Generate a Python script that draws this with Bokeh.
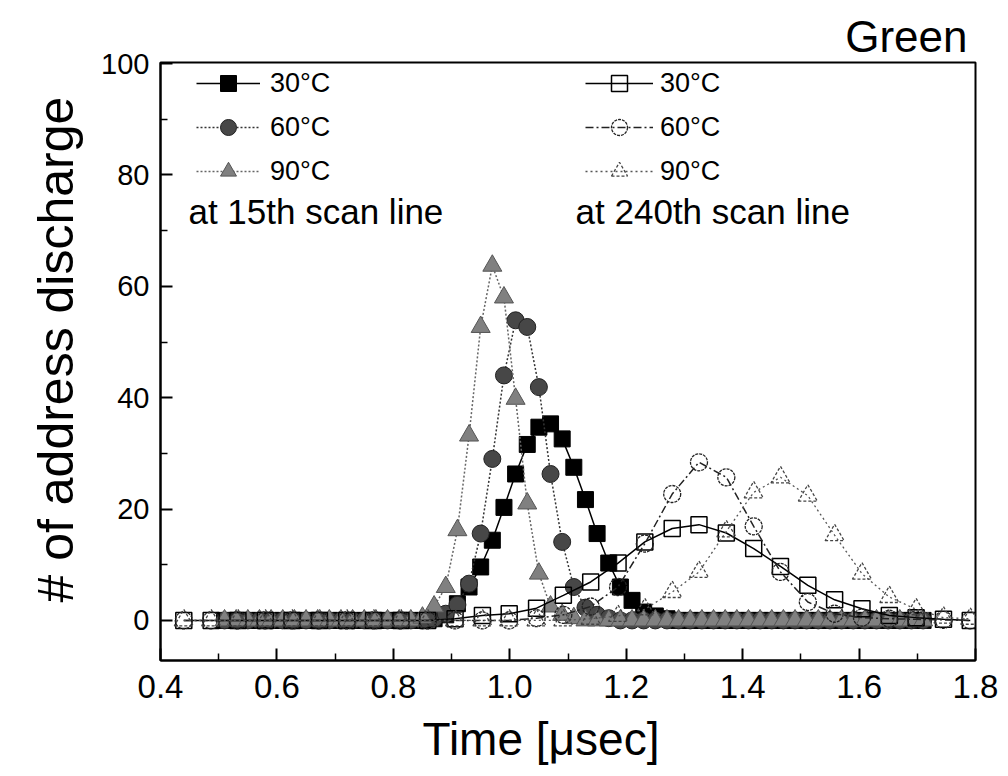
from bokeh.plotting import figure
from bokeh.models import Range1d, FixedTicker, Legend, LegendItem, Label, NumeralTickFormatter, Title
from bokeh.embed import file_html
from bokeh.resources import INLINE

# ---------------- data ----------------
# 15th scan line (time grid in usec)
t15 = [0.51, 0.53, 0.55, 0.57, 0.59, 0.61, 0.63, 0.65, 0.67, 0.69,
       0.71, 0.73, 0.75, 0.77, 0.79, 0.81, 0.83, 0.85, 0.87, 0.89,
       0.91, 0.93, 0.95, 0.97, 0.99, 1.01, 1.03, 1.05, 1.07, 1.09,
       1.11, 1.13, 1.15, 1.17, 1.19, 1.21, 1.23, 1.25, 1.27, 1.29,
       1.31, 1.33, 1.35, 1.37, 1.39, 1.41, 1.43, 1.45, 1.47, 1.49,
       1.51, 1.53, 1.55, 1.57, 1.59, 1.61, 1.63, 1.65, 1.67, 1.69, 1.71]
y30_15 = [0, 0, 0, 0, 0, 0, 0, 0, 0, 0,
          0, 0, 0, 0, 0, 0, 0, 0, 0.3, 1.0,
          3.0, 6.0, 9.6, 14.4, 20.3, 26.3, 31.6, 34.7, 35.3, 32.6,
          27.5, 21.7, 15.6, 10.3, 6.0, 3.6, 1.5, 0.8, 0.3, 0,
          0, 0, 0, 0, 0, 0, 0, 0, 0, 0,
          0, 0, 0, 0, 0, 0, 0, 0, 0, 0, 0]
y60_15 = [0, 0, 0, 0, 0, 0, 0, 0, 0, 0,
          0, 0, 0, 0, 0, 0, 0, 0, 0.3, 1.2,
          2.8, 6.6, 15.6, 29.0, 44.0, 53.9, 52.7, 41.9, 26.3, 14.1,
          6.0, 2.3, 1.0, 0.4, 0, 0, 0, 0, 0, 0,
          0, 0, 0, 0, 0, 0, 0, 0, 0, 0,
          0, 0, 0, 0, 0, 0, 0, 0, 0, 0, 0]
y90_15 = [0, 0, 0, 0, 0, 0, 0, 0, 0, 0,
          0, 0, 0, 0, 0, 0, 0, 0.5, 2.5, 6.0,
          16.2, 33.2, 52.7, 63.7, 58.0, 39.8, 21.0, 8.4, 2.5, 1.0,
          0.4, 0, 0, 0, 0, 0, 0, 0, 0, 0,
          0, 0, 0, 0, 0, 0, 0, 0, 0, 0,
          0, 0, 0, 0, 0, 0, 0, 0, 0, 0, 0]

# 240th scan line
t240 = [0.440, 0.487, 0.533, 0.580, 0.626, 0.673, 0.720, 0.766, 0.813, 0.859,
        0.906, 0.953, 0.999, 1.046, 1.092, 1.139, 1.186, 1.232, 1.279, 1.325,
        1.372, 1.419, 1.465, 1.512, 1.558, 1.605, 1.652, 1.698, 1.745, 1.791]
y30_240 = [0, 0, 0, 0, 0, 0, 0, 0, 0, 0,
           0.3, 0.9, 1.2, 2.2, 4.5, 6.9, 10.3, 14.1, 16.5, 17.2,
           15.7, 12.9, 9.7, 6.3, 3.7, 2.1, 0.9, 0.5, 0.2, 0.0]
y60_240 = [0, 0, 0, 0, 0, 0, 0, 0, 0, 0,
           0, 0, 0, 0.4, 1.0, 2.5, 6.0, 13.8, 22.7, 28.4,
           25.7, 16.9, 8.7, 3.3, 1.2, 0.5, 0.3, 0.2, 0.1, 0.0]
y90_240 = [0, 0, 0, 0, 0, 0, 0, 0, 0, 0,
           0, 0, 0, 0, 0, 0.3, 0.8, 2.0, 5.1, 8.7,
           16.0, 23.0, 25.7, 22.4, 15.3, 8.4, 4.2, 2.0, 0.5, 0.3]

labels = ["30°C", "60°C", "90°C"]
x_ticks = [0.4, 0.6, 0.8, 1.0, 1.2, 1.4, 1.6, 1.8]
x_minor = [0.5, 0.7, 0.9, 1.1, 1.3, 1.5, 1.7]
y_ticks = [0, 20, 40, 60, 80, 100]
y_minor = [10, 30, 50, 70, 90]

FONT = "Liberation Sans"

p = figure(width=1000, height=776, output_backend="svg", toolbar_location=None,
           x_range=Range1d(0.4, 1.8), y_range=Range1d(-7.2, 100.2),
           min_border_left=160, min_border_right=25, min_border_top=62, min_border_bottom=116,
           title="Green")
p.title.align = "right"
p.title.text_font = FONT
p.title.text_font_size = "44px"
p.title.text_font_style = "normal"
p.title.text_color = "black"
p.title.offset = 8
p.title.standoff = 4

p.xgrid.visible = False
p.ygrid.visible = False
p.outline_line_color = "black"
p.outline_line_width = 2
p.outline_line_alpha = 1

p.xaxis.ticker = FixedTicker(ticks=x_ticks, minor_ticks=x_minor)
p.yaxis.ticker = FixedTicker(ticks=y_ticks, minor_ticks=y_minor)
p.xaxis.formatter = NumeralTickFormatter(format="0.0")
p.yaxis.formatter = NumeralTickFormatter(format="0")
for ax in (p.xaxis[0], p.yaxis[0]):
    ax.major_tick_in = 12
    ax.major_tick_out = 0
    ax.minor_tick_in = 7
    ax.minor_tick_out = 0
    ax.axis_line_width = 2
    ax.major_tick_line_width = 2
    ax.minor_tick_line_width = 1.5
    ax.major_label_text_font = FONT
    ax.major_label_text_color = "black"
p.xaxis.major_label_text_font_size = "33px"
p.yaxis.major_label_text_font_size = "29px"
p.xaxis.major_label_standoff = 14
p.yaxis.major_label_standoff = 11

# axis titles placed as titles so they can sit off-centre like the original
p.add_layout(Title(text="Time [μsec]", align="left", offset=262, standoff=20,
                   text_font=FONT, text_font_size="46px", text_font_style="normal",
                   text_color="black"), "below")
p.add_layout(Title(text="# of address discharge", align="left", offset=58, standoff=30,
                   text_font=FONT, text_font_size="50px", text_font_style="normal",
                   text_color="black"), "left")

# ---- 15th scan line (filled markers) ----
l30 = p.line(t15, y30_15, line_color="black", line_width=1.5)
s30 = p.scatter(t15, y30_15, marker="square", size=16, fill_color="black", line_color="black")
l60 = p.line(t15, y60_15, line_color="#333333", line_width=1.5, line_dash="2 2")
s60 = p.scatter(t15, y60_15, marker="circle", size=17, fill_color="#474747", line_color="#222222")
l90 = p.line(t15, y90_15, line_color="#666666", line_width=1.5, line_dash="2 2")
s90 = p.scatter(t15, y90_15, marker="triangle", size=19, fill_color="#808080", line_color="#555555")

# ---- 240th scan line (open markers) ----
m30 = p.line(t240, y30_240, line_color="black", line_width=1.5)
o30 = p.scatter(t240, y30_240, marker="square", size=16, fill_alpha=0, line_color="black", line_width=1.5)
m60 = p.line(t240, y60_240, line_color="#222222", line_width=1.5, line_dash="8 3 2 3")
o60 = p.scatter(t240, y60_240, marker="circle", size=17, fill_alpha=0, line_color="#222222", line_width=1.3, line_dash="3 1")
m90 = p.line(t240, y90_240, line_color="#555555", line_width=1.3, line_dash="2 3")
o90 = p.scatter(t240, y90_240, marker="triangle", size=19, fill_alpha=0, line_color="#444444", line_width=1.3, line_dash="3 2")


def make_legend(items, loc, gw, standoff):
    lg = Legend(items=items, location=loc, orientation="vertical",
                glyph_width=gw, glyph_height=40, label_height=40, spacing=4,
                padding=0, margin=0, border_line_alpha=0, background_fill_alpha=0,
                label_text_font=FONT, label_text_font_size="27px", label_text_color="black",
                label_standoff=standoff)
    return lg


leg1 = make_legend([LegendItem(label=labels[0], renderers=[l30, s30]),
                    LegendItem(label=labels[1], renderers=[l60, s60]),
                    LegendItem(label=labels[2], renderers=[l90, s90])], (36, 469), 64, 10)
leg2 = make_legend([LegendItem(label=labels[0], renderers=[m30, o30]),
                    LegendItem(label=labels[1], renderers=[m60, o60]),
                    LegendItem(label=labels[2], renderers=[m90, o90])], (425, 469), 68, 7)
p.add_layout(leg1, "center")
p.add_layout(leg2, "center")

p.add_layout(Label(x=0.448, y=73.4, text="at 15th scan line", text_baseline="middle",
                   text_font=FONT, text_font_size="35px", text_color="black"))
p.add_layout(Label(x=1.113, y=73.4, text="at 240th scan line", text_baseline="middle",
                   text_font=FONT, text_font_size="35px", text_color="black"))

open("out.html", "w").write(file_html(p, INLINE))
